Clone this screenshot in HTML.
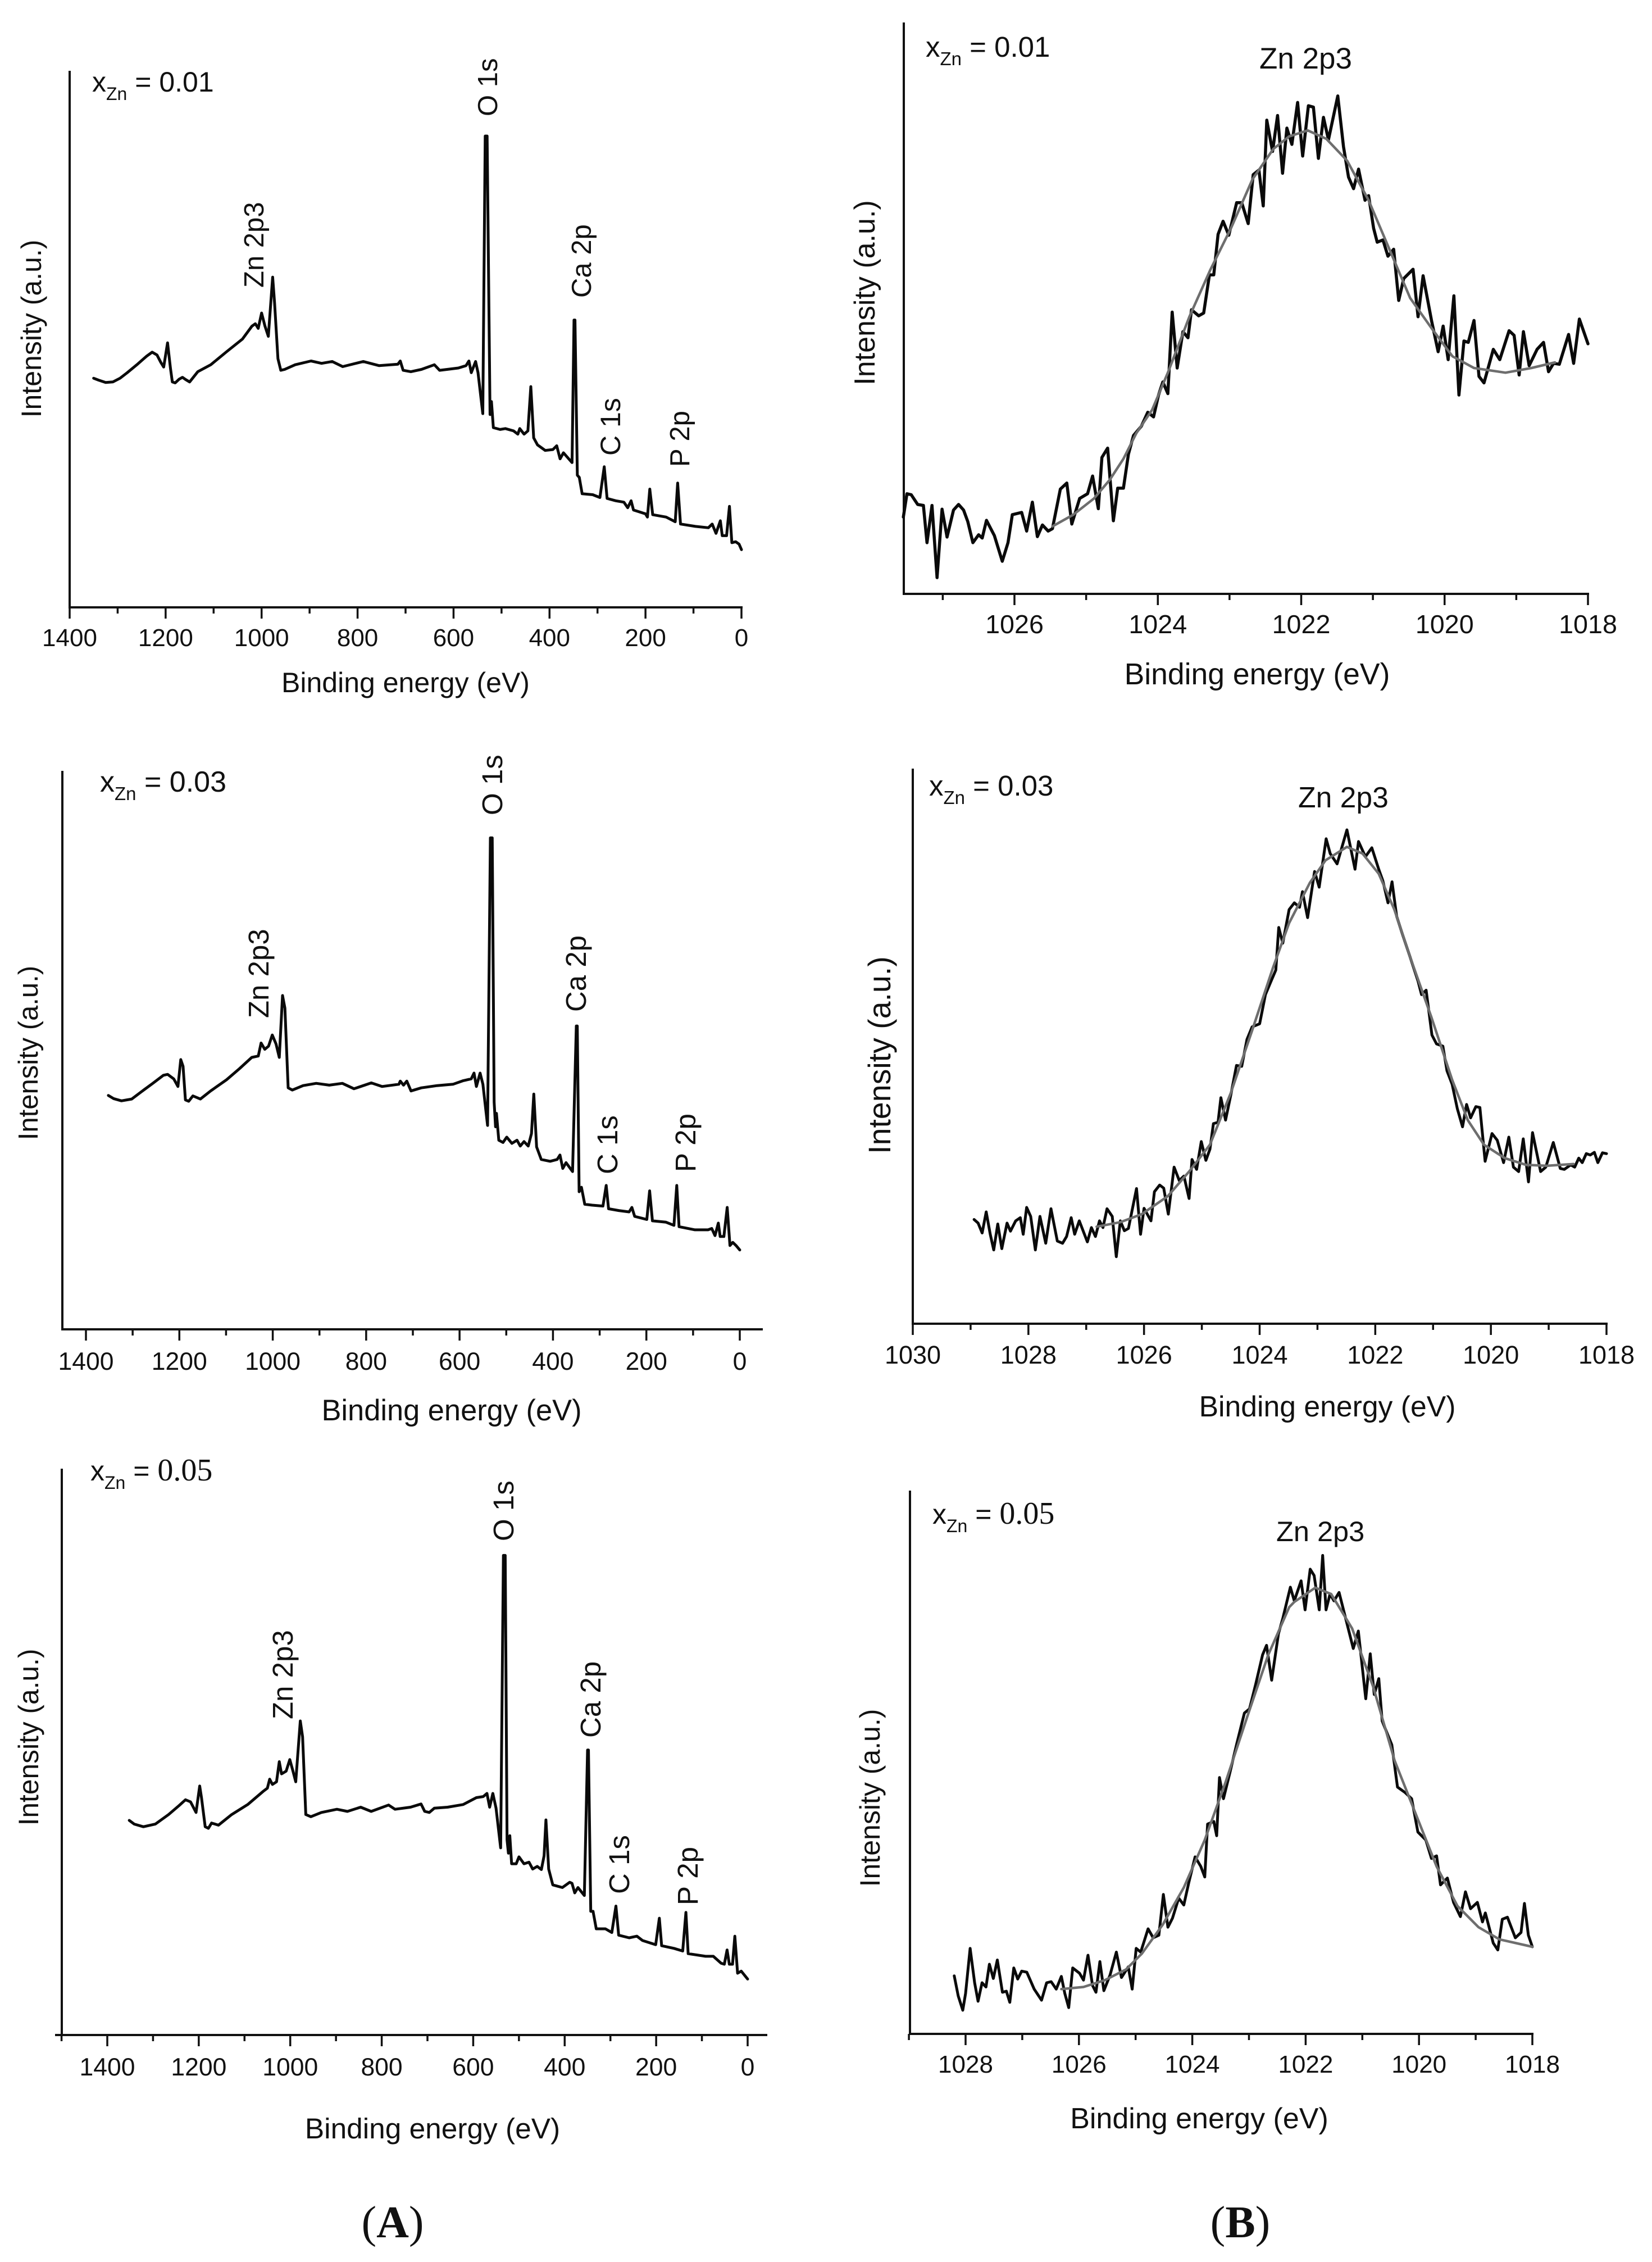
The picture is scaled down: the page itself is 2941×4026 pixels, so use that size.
<!DOCTYPE html>
<html lang="en">
<head>
<meta charset="utf-8">
<title>XPS survey and Zn 2p3 spectra</title>
<style>
html,body{margin:0;padding:0;background:#fff;}
svg{display:block;}
text{font-family:"Liberation Sans",sans-serif;fill:#111;}
.serif{font-family:"Liberation Serif",serif;}
</style>
</head>
<body>
<svg id="figure" xmlns="http://www.w3.org/2000/svg" width="2941" height="4026" viewBox="0 0 2941 4026">
<rect x="0" y="0" width="2941" height="4026" fill="#ffffff"/>

<g id="a1">
  <text x="164" y="163" font-size="50">x<tspan dy="15" font-size="32">Zn</tspan><tspan dy="-15"> = 0.01</tspan></text>
  <text transform="translate(73,585) rotate(-90)" text-anchor="middle" font-size="50">Intensity (a.u.)</text>
  <text x="722" y="1232" text-anchor="middle" font-size="50">Binding energy (eV)</text>
  <text transform="translate(885,207) rotate(-90)" font-size="49">O 1s</text>
  <text transform="translate(469,512) rotate(-90)" font-size="49">Zn 2p3</text>
  <text transform="translate(1052,530) rotate(-90)" font-size="49">Ca 2p</text>
  <text transform="translate(1104,811) rotate(-90)" font-size="50">C 1s</text>
  <text transform="translate(1227,831) rotate(-90)" font-size="49">P 2p</text>
</g>

<g id="b1">
  <text x="1648" y="101" font-size="51">x<tspan dy="15" font-size="33">Zn</tspan><tspan dy="-15"> = 0.01</tspan></text>
  <text x="2242" y="122" font-size="53">Zn 2p3</text>
  <text transform="translate(1557,521) rotate(-90)" text-anchor="middle" font-size="52">Intensity (a.u.)</text>
  <text x="2238" y="1218" text-anchor="middle" font-size="53.5">Binding energy (eV)</text>
</g>

<g id="a2">
  <text x="178" y="1409" font-size="52">x<tspan dy="15" font-size="33">Zn</tspan><tspan dy="-15"> = 0.03</tspan></text>
  <text transform="translate(67,1874) rotate(-90)" text-anchor="middle" font-size="49">Intensity (a.u.)</text>
  <text x="804" y="2528" text-anchor="middle" font-size="52.4">Binding energy (eV)</text>
  <text transform="translate(894,1451) rotate(-90)" font-size="51">O 1s</text>
  <text transform="translate(478,1812) rotate(-90)" font-size="51">Zn 2p3</text>
  <text transform="translate(1043,1801) rotate(-90)" font-size="51">Ca 2p</text>
  <text transform="translate(1099,2090) rotate(-90)" font-size="51">C 1s</text>
  <text transform="translate(1238,2086) rotate(-90)" font-size="51">P 2p</text>
</g>

<g id="b2">
  <text x="1654" y="1416" font-size="51">x<tspan dy="15" font-size="33">Zn</tspan><tspan dy="-15"> = 0.03</tspan></text>
  <text x="2311" y="1437" font-size="51.7">Zn 2p3</text>
  <text transform="translate(1585,1878) rotate(-90)" text-anchor="middle" font-size="55.5">Intensity (a.u.)</text>
  <text x="2363" y="2521" text-anchor="middle" font-size="51.7">Binding energy (eV)</text>
</g>

<g id="a3">
  <text x="161" y="2635" font-size="50">x<tspan dy="15" font-size="32">Zn</tspan><tspan dy="-15"> = </tspan><tspan class="serif" font-family="Liberation Serif, serif" font-size="56">0.05</tspan></text>
  <text transform="translate(68,3092) rotate(-90)" text-anchor="middle" font-size="49.7">Intensity (a.u.)</text>
  <text x="770" y="3806" text-anchor="middle" font-size="51.4">Binding energy (eV)</text>
  <text transform="translate(914,2743) rotate(-90)" font-size="51">O 1s</text>
  <text transform="translate(521,3060) rotate(-90)" font-size="51">Zn 2p3</text>
  <text transform="translate(1069,3093) rotate(-90)" font-size="51">Ca 2p</text>
  <text transform="translate(1120,3371) rotate(-90)" font-size="51">C 1s</text>
  <text transform="translate(1242,3391) rotate(-90)" font-size="51">P 2p</text>
</g>

<g id="b3">
  <text x="1660" y="2712" font-size="50">x<tspan dy="15" font-size="32">Zn</tspan><tspan dy="-15"> = </tspan><tspan class="serif" font-family="Liberation Serif, serif" font-size="56">0.05</tspan></text>
  <text x="2272" y="2743" font-size="50.5">Zn 2p3</text>
  <text transform="translate(1566,3200) rotate(-90)" text-anchor="middle" font-size="50">Intensity (a.u.)</text>
  <text x="2135" y="3788" text-anchor="middle" font-size="52">Binding energy (eV)</text>
</g>

<text x="699" y="3982" text-anchor="middle" font-size="80" class="serif" style="font-family:'Liberation Serif',serif">(<tspan font-weight="bold">A</tspan>)</text>
<text x="2208" y="3982" text-anchor="middle" font-size="80" class="serif" style="font-family:'Liberation Serif',serif">(<tspan font-weight="bold">B</tspan>)</text>
</svg>

<script>
// ---- Survey spectrum x(Zn)=0.01 ----
const a1Energy=[1350,1340,1325,1310,1295,1280,1260,1240,1228,1218,1210,1204,1196,1190,1186,1180,1172,1165,1158,1150,1133,1106,1073,1040,1020,1013,1007,1000,993,986,977,973,966,960,952,930,897,875,853,831,788,755,716,711,705,689,667,640,629,590,574,568,563,554,549,539,534,530,524,521,517,503,492,475,466,462,453,445,439,433,425,409,393,385,378,371,360,353,349,347,342,338,332,310,295,286,280,262,245,237,230,225,200,196,191,185,157,138,133,127,96,69,61,53,44,40,31,25,20,12,5,0];
const a1Intensity=[1188,1184,1179,1180,1188,1200,1217,1235,1244,1238,1222,1212,1264,1210,1180,1178,1186,1190,1185,1180,1202,1217,1245,1272,1300,1305,1295,1328,1300,1278,1405,1350,1230,1205,1207,1217,1225,1220,1224,1213,1224,1215,1218,1225,1205,1202,1207,1217,1205,1210,1215,1225,1200,1224,1200,1112,1708,1708,1110,1138,1082,1078,1080,1075,1068,1080,1068,1075,1170,1060,1045,1033,1035,1043,1015,1028,1015,1007,1313,1313,980,975,940,938,932,998,930,925,922,910,925,905,897,890,950,895,890,880,963,875,870,867,875,855,882,850,850,913,835,837,832,820];
const a1MajorTicks=[1400,1200,1000,800,600,400,200,0];
const a1MinorTicks=[1300,1100,900,700,500,300,100];
const a1TickLabels=["1400","1200","1000","800","600","400","200","0"];

// ---- Survey spectrum x(Zn)=0.03 ----
const a2Energy=[1352,1341,1324,1302,1279,1257,1234,1225,1212,1203,1197,1192,1187,1180,1171,1155,1133,1099,1071,1045,1031,1025,1017,1009,1001,993,986,979,974,967,958,935,907,879,851,826,789,766,730,727,720,713,704,682,648,614,592,575,569,564,556,550,540,534,530,526,523,521,516,507,499,488,477,470,462,453,446,441,435,425,406,391,385,379,372,358,350,348,344,339,332,316,293,286,281,259,237,231,225,199,193,187,158,141,135,130,96,68,60,53,46,42,34,27,21,15,8,0];
const a2Intensity=[1185,1178,1173,1177,1195,1212,1230,1232,1222,1205,1265,1250,1175,1172,1184,1177,1195,1220,1245,1270,1273,1302,1288,1295,1320,1300,1270,1408,1380,1202,1197,1207,1212,1208,1212,1200,1213,1205,1210,1217,1208,1217,1195,1202,1207,1210,1218,1222,1235,1205,1235,1210,1118,1760,1760,1170,1115,1145,1085,1080,1092,1078,1085,1072,1082,1072,1100,1188,1070,1042,1038,1042,1052,1022,1035,1015,1340,1340,970,980,942,940,938,984,932,928,925,935,915,908,972,905,902,895,984,892,885,885,888,872,900,870,870,935,850,857,850,840];
const a2MajorTicks=[1400,1200,1000,800,600,400,200,0];
const a2MinorTicks=[1300,1100,900,700,500,300,100];
const a2TickLabels=["1400","1200","1000","800","600","400","200","0"];

// ---- Survey spectrum x(Zn)=0.05 ----
const a3Energy=[1352,1341,1321,1295,1266,1243,1229,1218,1206,1198,1194,1186,1179,1172,1157,1128,1093,1059,1050,1045,1039,1030,1024,1019,1009,1001,994,988,978,973,966,955,932,898,875,846,823,785,771,737,714,706,696,685,656,622,593,578,570,564,557,550,540,534,530,526,523,520,516,506,500,489,478,470,460,451,445,441,435,426,405,389,384,378,371,357,350,348,343,338,331,311,297,288,282,259,242,230,201,193,188,161,142,135,130,92,75,58,51,45,40,33,28,22,14,0];
const a3Intensity=[1267,1260,1255,1260,1278,1295,1306,1302,1282,1332,1310,1255,1252,1262,1258,1278,1297,1322,1328,1345,1335,1340,1378,1355,1360,1382,1360,1340,1455,1425,1278,1274,1282,1288,1284,1292,1284,1296,1288,1292,1298,1284,1282,1290,1292,1297,1310,1312,1318,1292,1318,1290,1215,1768,1768,1230,1205,1238,1185,1185,1198,1185,1188,1175,1180,1174,1200,1268,1175,1145,1140,1150,1148,1130,1140,1125,1400,1400,1095,1095,1062,1062,1055,1105,1050,1045,1048,1040,1032,1082,1030,1025,1020,1093,1015,1010,1010,997,995,1022,995,995,1048,978,982,967];
const a3MajorTicks=[1400,1200,1000,800,600,400,200,0];
const a3MinorTicks=[1500,1300,1100,900,700,500,300,100];
const a3TickLabels=["1400","1200","1000","800","600","400","200","0"];

// ---- Zn 2p3 x(Zn)=0.01 ----
const b1Energy=[1027.55,1027.50,1027.44,1027.35,1027.27,1027.22,1027.15,1027.08,1027.01,1026.94,1026.85,1026.78,1026.71,1026.65,1026.58,1026.50,1026.45,1026.39,1026.28,1026.17,1026.09,1026.03,1025.90,1025.83,1025.75,1025.68,1025.61,1025.53,1025.47,1025.36,1025.27,1025.20,1025.09,1024.98,1024.91,1024.83,1024.78,1024.70,1024.62,1024.56,1024.48,1024.41,1024.34,1024.23,1024.14,1024.06,1023.99,1023.93,1023.86,1023.80,1023.73,1023.65,1023.58,1023.53,1023.43,1023.36,1023.28,1023.22,1023.16,1023.09,1023.01,1022.90,1022.83,1022.74,1022.67,1022.59,1022.53,1022.48,1022.40,1022.33,1022.26,1022.20,1022.13,1022.05,1021.98,1021.90,1021.83,1021.76,1021.69,1021.62,1021.49,1021.41,1021.34,1021.27,1021.20,1021.11,1021.06,1020.99,1020.94,1020.86,1020.79,1020.71,1020.64,1020.57,1020.44,1020.37,1020.30,1020.18,1020.09,1020.02,1019.95,1019.87,1019.80,1019.73,1019.67,1019.59,1019.52,1019.45,1019.32,1019.23,1019.10,1019.03,1018.96,1018.90,1018.82,1018.71,1018.62,1018.55,1018.48,1018.40,1018.27,1018.20,1018.12,1018.00];
const b1Intensity=[890,940,938,917,915,835,915,760,907,847,905,917,905,880,835,852,845,883,850,795,835,895,900,860,922,848,873,860,865,950,963,875,930,940,978,908,1018,1038,882,952,952,1025,1065,1085,1115,1105,1152,1180,1155,1330,1210,1288,1275,1335,1322,1328,1410,1410,1497,1525,1495,1565,1565,1520,1625,1635,1558,1742,1675,1752,1628,1725,1690,1780,1665,1773,1770,1660,1748,1700,1794,1685,1620,1595,1637,1570,1580,1510,1480,1485,1450,1465,1355,1402,1422,1320,1408,1310,1245,1300,1228,1365,1152,1268,1265,1312,1192,1178,1250,1228,1290,1280,1195,1288,1215,1250,1265,1202,1220,1218,1282,1220,1315,1262];
const b1FitEnergy=[1025.47,1025.18,1024.89,1024.67,1024.48,1024.30,1024.08,1023.86,1023.56,1023.27,1022.98,1022.68,1022.39,1022.17,1021.91,1021.65,1021.36,1021.06,1020.77,1020.48,1020.18,1019.89,1019.59,1019.15,1018.79,1018.46];
const b1FitIntensity=[870,895,930,970,1015,1070,1120,1200,1320,1420,1510,1615,1680,1707,1720,1702,1655,1570,1465,1360,1295,1235,1210,1200,1210,1222];
const b1MajorTicks=[1026,1024,1022,1020,1018];
const b1MinorTicks=[1027,1025,1023,1021,1019];
const b1TickLabels=["1026","1024","1022","1020","1018"];

// ---- Zn 2p3 x(Zn)=0.03 ----
const b2Energy=[1028.94,1028.87,1028.80,1028.73,1028.66,1028.60,1028.53,1028.46,1028.37,1028.31,1028.22,1028.14,1028.09,1028.03,1027.96,1027.88,1027.80,1027.70,1027.61,1027.50,1027.41,1027.34,1027.26,1027.20,1027.12,1026.98,1026.91,1026.84,1026.77,1026.71,1026.64,1026.55,1026.48,1026.41,1026.34,1026.27,1026.13,1026.06,1026.00,1025.88,1025.82,1025.73,1025.66,1025.58,1025.48,1025.39,1025.31,1025.22,1025.17,1025.09,1025.01,1024.93,1024.86,1024.80,1024.72,1024.67,1024.59,1024.50,1024.40,1024.31,1024.22,1024.13,1024.00,1023.90,1023.81,1023.72,1023.67,1023.60,1023.49,1023.40,1023.31,1023.26,1023.17,1023.05,1022.97,1022.85,1022.78,1022.66,1022.49,1022.35,1022.29,1022.17,1022.06,1021.94,1021.87,1021.78,1021.71,1021.63,1021.53,1021.40,1021.26,1021.20,1021.12,1021.02,1020.94,1020.83,1020.76,1020.67,1020.58,1020.49,1020.42,1020.35,1020.26,1020.19,1020.10,1019.98,1019.89,1019.78,1019.69,1019.61,1019.52,1019.44,1019.35,1019.28,1019.14,1019.05,1018.92,1018.80,1018.73,1018.62,1018.55,1018.48,1018.42,1018.35,1018.28,1018.21,1018.15,1018.07,1018.00];
const b2Intensity=[908,900,878,925,875,840,898,843,900,882,905,912,875,935,915,840,915,855,932,860,855,870,912,875,905,858,890,870,905,890,932,915,825,905,883,888,977,875,933,905,970,985,978,920,1025,995,1005,955,1042,1020,1082,1040,1065,1122,1125,1180,1130,1185,1252,1250,1310,1338,1345,1410,1438,1465,1560,1525,1600,1615,1605,1640,1582,1685,1650,1758,1725,1702,1778,1690,1752,1718,1738,1690,1665,1615,1662,1585,1545,1495,1440,1410,1420,1320,1300,1295,1240,1210,1155,1115,1165,1135,1160,1158,1038,1100,1085,1035,1092,1025,1015,1088,992,1102,1015,1025,1080,1022,1020,1030,1025,1045,1035,1055,1052,1058,1035,1057,1055];
const b2FitEnergy=[1026.82,1026.41,1026.04,1025.59,1025.22,1024.86,1024.50,1024.13,1023.77,1023.49,1023.13,1022.86,1022.49,1022.22,1021.94,1021.67,1021.40,1021.03,1020.67,1020.40,1020.12,1019.76,1019.39,1019.03,1018.57];
const b2FitIntensity=[892,902,920,960,1015,1075,1190,1330,1470,1570,1660,1710,1740,1725,1680,1600,1495,1360,1220,1130,1075,1045,1030,1028,1032];
const b2MajorTicks=[1030,1028,1026,1024,1022,1020,1018];
const b2MinorTicks=[1029,1027,1025,1023,1021,1019];
const b2TickLabels=["1030","1028","1026","1024","1022","1020","1018"];

// ---- Zn 2p3 x(Zn)=0.05 ----
const b3Energy=[1028.20,1028.13,1028.05,1028.00,1027.92,1027.84,1027.78,1027.71,1027.64,1027.58,1027.51,1027.44,1027.35,1027.28,1027.22,1027.15,1027.08,1027.01,1026.92,1026.79,1026.66,1026.57,1026.49,1026.40,1026.31,1026.25,1026.18,1026.11,1025.99,1025.92,1025.84,1025.76,1025.70,1025.63,1025.56,1025.45,1025.34,1025.25,1025.13,1025.06,1024.99,1024.91,1024.78,1024.69,1024.59,1024.51,1024.43,1024.35,1024.24,1024.15,1024.06,1023.95,1023.85,1023.78,1023.73,1023.62,1023.57,1023.52,1023.45,1023.33,1023.22,1023.08,1022.99,1022.88,1022.76,1022.69,1022.60,1022.48,1022.40,1022.27,1022.20,1022.08,1022.01,1021.92,1021.85,1021.76,1021.70,1021.64,1021.57,1021.50,1021.41,1021.32,1021.16,1021.07,1020.94,1020.86,1020.79,1020.71,1020.65,1020.48,1020.38,1020.25,1020.13,1020.02,1019.88,1019.78,1019.69,1019.62,1019.50,1019.39,1019.27,1019.18,1019.09,1018.97,1018.88,1018.83,1018.69,1018.61,1018.53,1018.44,1018.30,1018.20,1018.14,1018.07,1018.00];
const b3Intensity=[973,935,908,940,1025,960,925,960,952,995,968,1003,942,944,923,988,967,982,980,948,927,960,962,948,972,940,913,988,978,965,1012,955,942,1000,945,975,1018,970,990,948,1025,1018,1062,1045,1050,1127,1065,1082,1120,1107,1150,1198,1180,1160,1260,1265,1238,1348,1308,1360,1410,1470,1478,1525,1580,1598,1532,1620,1650,1708,1682,1720,1665,1742,1730,1665,1768,1665,1695,1682,1698,1660,1592,1625,1497,1582,1505,1535,1455,1410,1330,1320,1308,1245,1230,1195,1200,1145,1158,1112,1085,1132,1100,1112,1075,1092,1035,1022,1080,1084,1045,1055,1110,1050,1028];
const b3FitEnergy=[1026.31,1025.92,1025.54,1025.17,1024.89,1024.52,1024.15,1023.78,1023.41,1023.04,1022.66,1022.29,1022.20,1021.83,1021.55,1021.18,1020.81,1020.43,1020.06,1019.69,1019.32,1018.95,1018.58,1018.00];
const b3FitIntensity=[948,952,965,985,1015,1070,1140,1230,1340,1460,1580,1670,1680,1707,1695,1630,1520,1380,1280,1180,1105,1065,1042,1028];
const b3MajorTicks=[1028,1026,1024,1022,1020,1018];
const b3MinorTicks=[1029,1027,1025,1023,1021,1019];
const b3TickLabels=["1028","1026","1024","1022","1020","1018"];

const SVGNS='http://www.w3.org/2000/svg';

function makeLine(x1,y1,x2,y2,w){
  const el=document.createElementNS(SVGNS,'line');
  el.setAttribute('x1',x1);el.setAttribute('y1',y1);
  el.setAttribute('x2',x2);el.setAttribute('y2',y2);
  el.setAttribute('stroke','#111');
  el.setAttribute('stroke-width',w);
  return el;
}

function makeCurve(xs,ys,xScale,yScale,color,width){
  const el=document.createElementNS(SVGNS,'path');
  let d='';
  for(let i=0;i<xs.length;i++){
    d+=(i?'L':'M')+xScale(xs[i]).toFixed(1)+' '+yScale(ys[i]).toFixed(1);
  }
  el.setAttribute('d',d);
  el.setAttribute('fill','none');
  el.setAttribute('stroke',color);
  el.setAttribute('stroke-width',width);
  el.setAttribute('stroke-linejoin','round');
  el.setAttribute('stroke-linecap','round');
  return el;
}

function drawPanel(p){
  const g=document.getElementById(p.id);
  const xScale=function(e){return p.x1+(e-p.e1)*(p.x2-p.x1)/(p.e2-p.e1);};
  const yScale=function(v){return p.yBase-v*p.yk;};

  const yAxis=makeLine(p.axisLeft,p.axisTop,p.axisLeft,p.axisBottom+2,4);
  
  
  g.appendChild(yAxis);

  const xAxis=makeLine(p.axisStart,p.axisBottom,p.axisRight,p.axisBottom,4);
  
  
  g.appendChild(xAxis);

  p.minor.forEach(function(t){
    const el=makeLine(xScale(t),p.axisBottom,xScale(t),p.axisBottom+11,3.5);
    
    
    g.appendChild(el);
  });

  p.major.forEach(function(t,i){
    const el=makeLine(xScale(t),p.axisBottom,xScale(t),p.axisBottom+20,3.5);
    
    
    g.appendChild(el);
    const lab=document.createElementNS(SVGNS,'text');
    lab.setAttribute('x',xScale(t));
    lab.setAttribute('y',p.tickBaseline);
    lab.setAttribute('text-anchor','middle');
    lab.setAttribute('font-size',p.tickSize);
    
    
    lab.textContent=p.labels[i];
    g.appendChild(lab);
  });

  const line=makeCurve(p.energy,p.intensity,xScale,yScale,'#0a0a0a',p.lineWidth);
  
  
  g.appendChild(line);

  if(p.fitE){
    const fit=makeCurve(p.fitE,p.fitI,xScale,yScale,'#6e6e6e',4.5);
    
    
    g.appendChild(fit);
  }
}

const YK1=1300/1568, YK2=1250/1568, YK3=1476/1568;

drawPanel({id:'a1',e1:1400,x1:124,e2:0,x2:1320,axisLeft:124,axisStart:124,axisRight:1322,axisTop:126,axisBottom:1081,
  yBase:2000*YK1,yk:YK1,energy:a1Energy,intensity:a1Intensity,major:a1MajorTicks,minor:a1MinorTicks,labels:a1TickLabels,tickBaseline:1150,tickSize:44,lineWidth:5});
drawPanel({id:'b1',e1:1026,x1:1806,e2:1018,x2:2827,axisLeft:1609,axisStart:1609,axisRight:2829,axisTop:40,axisBottom:1057,
  yBase:2000*YK1,yk:YK1,energy:b1Energy,intensity:b1Intensity,fitE:b1FitEnergy,fitI:b1FitIntensity,major:b1MajorTicks,minor:b1MinorTicks,labels:b1TickLabels,tickBaseline:1127,tickSize:46.7,lineWidth:5.5});
drawPanel({id:'a2',e1:1400,x1:153,e2:0,x2:1317,axisLeft:111,axisStart:111,axisRight:1358,axisTop:1372,axisBottom:2366,
  yBase:1300+2000*YK2,yk:YK2,energy:a2Energy,intensity:a2Intensity,major:a2MajorTicks,minor:a2MinorTicks,labels:a2TickLabels,tickBaseline:2438,tickSize:44.5,lineWidth:5});
drawPanel({id:'b2',e1:1030,x1:1625,e2:1018,x2:2860,axisLeft:1625,axisStart:1625,axisRight:2862,axisTop:1368,axisBottom:2356,
  yBase:1300+2000*YK2,yk:YK2,energy:b2Energy,intensity:b2Intensity,fitE:b2FitEnergy,fitI:b2FitIntensity,major:b2MajorTicks,minor:b2MinorTicks,labels:b2TickLabels,tickBaseline:2427,tickSize:45,lineWidth:5});
drawPanel({id:'a3',e1:1400,x1:191,e2:0,x2:1331,axisLeft:110,axisStart:98,axisRight:1366,axisTop:2614,axisBottom:3622,
  yBase:2550+2000*YK3,yk:YK3,energy:a3Energy,intensity:a3Intensity,major:a3MajorTicks,minor:a3MinorTicks,labels:a3TickLabels,tickBaseline:3694,tickSize:44.5,lineWidth:5});
drawPanel({id:'b3',e1:1028,x1:1719,e2:1018,x2:2728,axisLeft:1620,axisStart:1620,axisRight:2730,axisTop:2653,axisBottom:3620,
  yBase:2550+2000*YK3,yk:YK3,energy:b3Energy,intensity:b3Intensity,fitE:b3FitEnergy,fitI:b3FitIntensity,major:b3MajorTicks,minor:b3MinorTicks,labels:b3TickLabels,tickBaseline:3689,tickSize:44,lineWidth:5});
</script>
</body>
</html>
